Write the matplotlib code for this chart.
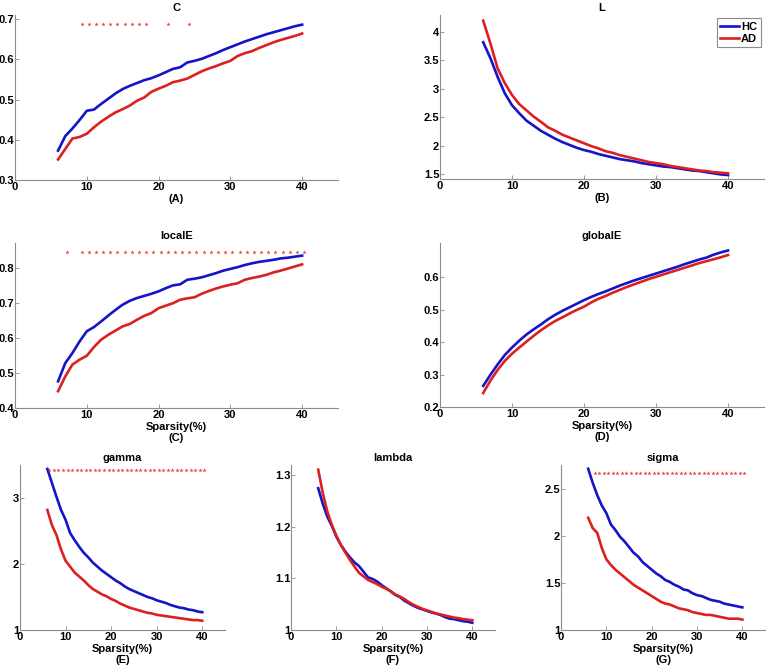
import matplotlib
matplotlib.use("Agg")
import matplotlib.pyplot as plt
import matplotlib.transforms as mtransforms
from matplotlib.ticker import FuncFormatter

plt.rcParams['font.family'] = ['Liberation Sans', 'DejaVu Sans']
plt.rcParams['font.weight'] = 'bold'
plt.rcParams['font.size'] = 8

W, H = 767, 665
BLUE = '#1414c8'
RED = '#dc2020'
GREY = '#8c8c8c'

# sparsity (%) from 6 to 40
sparsity = list(range(6, 41))

# C (clustering)
C_hc = [0.373, 0.409, 0.428, 0.449, 0.472, 0.475, 0.489, 0.502, 0.515, 0.526,
        0.534, 0.541, 0.548, 0.553, 0.560, 0.568, 0.576, 0.580, 0.592, 0.596,
        0.601, 0.608, 0.615, 0.623, 0.630, 0.637, 0.644, 0.650, 0.656, 0.662,
        0.667, 0.672, 0.677, 0.682, 0.686]
C_ad = [0.351, 0.377, 0.403, 0.407, 0.415, 0.431, 0.445, 0.457, 0.468, 0.476,
        0.485, 0.497, 0.505, 0.519, 0.527, 0.534, 0.543, 0.547, 0.552, 0.561,
        0.570, 0.577, 0.583, 0.590, 0.596, 0.608, 0.615, 0.620, 0.628, 0.635,
        0.642, 0.648, 0.653, 0.658, 0.664]
C_stars = [9, 10, 11, 12, 13, 14, 15, 16, 17, 18, 21, 24]

# L (path length)
L_hc = [3.82, 3.54, 3.21, 2.92, 2.71, 2.57, 2.44, 2.35, 2.26, 2.19,
        2.12, 2.06, 2.01, 1.96, 1.92, 1.89, 1.85, 1.82, 1.79, 1.76,
        1.74, 1.72, 1.69, 1.67, 1.65, 1.63, 1.62, 1.60, 1.58, 1.56,
        1.55, 1.53, 1.51, 1.49, 1.48]
L_ad = [4.20, 3.80, 3.36, 3.10, 2.89, 2.73, 2.62, 2.51, 2.42, 2.32,
        2.26, 2.19, 2.14, 2.09, 2.04, 1.99, 1.95, 1.90, 1.87, 1.83,
        1.80, 1.77, 1.74, 1.71, 1.69, 1.67, 1.64, 1.62, 1.60, 1.58,
        1.56, 1.55, 1.53, 1.52, 1.51]

# localE
loc_hc = [0.476, 0.528, 0.557, 0.590, 0.619, 0.631, 0.647, 0.664, 0.680, 0.695,
          0.706, 0.714, 0.720, 0.726, 0.733, 0.742, 0.750, 0.753, 0.766, 0.769,
          0.773, 0.779, 0.785, 0.792, 0.797, 0.802, 0.808, 0.813, 0.817, 0.820,
          0.823, 0.827, 0.829, 0.832, 0.835]
loc_ad = [0.448, 0.490, 0.524, 0.538, 0.549, 0.574, 0.595, 0.609, 0.621, 0.633,
          0.640, 0.652, 0.663, 0.671, 0.685, 0.692, 0.699, 0.709, 0.713, 0.716,
          0.726, 0.734, 0.741, 0.747, 0.752, 0.756, 0.766, 0.771, 0.775, 0.780,
          0.787, 0.792, 0.798, 0.804, 0.810]
loc_stars = [7] + list(range(9, 41))

# globalE
glob_hc = [0.265, 0.299, 0.331, 0.360, 0.383, 0.404, 0.423, 0.439, 0.454, 0.470,
           0.484, 0.496, 0.507, 0.518, 0.529, 0.539, 0.548, 0.556, 0.565, 0.574,
           0.582, 0.590, 0.597, 0.604, 0.611, 0.618, 0.625, 0.632, 0.640, 0.647,
           0.654, 0.660, 0.669, 0.676, 0.682]
glob_ad = [0.243, 0.281, 0.314, 0.342, 0.364, 0.383, 0.401, 0.419, 0.436, 0.451,
           0.465, 0.476, 0.488, 0.499, 0.509, 0.522, 0.533, 0.542, 0.552, 0.561,
           0.570, 0.578, 0.586, 0.594, 0.601, 0.608, 0.615, 0.622, 0.629, 0.636,
           0.643, 0.649, 0.655, 0.661, 0.668]

# gamma
gam_hc = [3.44, 3.23, 3.02, 2.82, 2.67, 2.47, 2.36, 2.26, 2.17, 2.10,
          2.02, 1.96, 1.90, 1.85, 1.80, 1.75, 1.71, 1.66, 1.62, 1.59,
          1.56, 1.53, 1.50, 1.48, 1.45, 1.43, 1.41, 1.38, 1.36, 1.34,
          1.33, 1.31, 1.30, 1.28, 1.27]
gam_ad = [2.82, 2.59, 2.44, 2.22, 2.05, 1.96, 1.87, 1.81, 1.75, 1.68,
          1.62, 1.58, 1.54, 1.51, 1.47, 1.44, 1.40, 1.37, 1.34, 1.32,
          1.30, 1.28, 1.26, 1.25, 1.23, 1.22, 1.21, 1.20, 1.19, 1.18,
          1.17, 1.16, 1.15, 1.15, 1.14]
gam_stars = list(range(6, 41))

# lambda
lam_hc = [1.275, 1.245, 1.220, 1.202, 1.181, 1.165, 1.152, 1.141, 1.131, 1.124,
          1.113, 1.102, 1.099, 1.094, 1.087, 1.081, 1.075, 1.068, 1.064, 1.057,
          1.052, 1.047, 1.043, 1.040, 1.037, 1.034, 1.032, 1.029, 1.025, 1.022,
          1.021, 1.019, 1.017, 1.016, 1.014]
lam_ad = [1.311, 1.266, 1.230, 1.204, 1.183, 1.165, 1.150, 1.136, 1.123, 1.111,
          1.104, 1.097, 1.093, 1.089, 1.084, 1.080, 1.075, 1.069, 1.065, 1.060,
          1.054, 1.049, 1.045, 1.041, 1.038, 1.035, 1.032, 1.030, 1.028, 1.026,
          1.024, 1.023, 1.021, 1.020, 1.019]

# sigma
sig_hc = [2.71, 2.56, 2.43, 2.32, 2.24, 2.12, 2.06, 1.99, 1.94, 1.88,
          1.82, 1.78, 1.72, 1.68, 1.64, 1.60, 1.57, 1.53, 1.51, 1.48,
          1.46, 1.43, 1.42, 1.39, 1.37, 1.36, 1.34, 1.32, 1.31, 1.30,
          1.28, 1.27, 1.26, 1.25, 1.24]
sig_ad = [2.19, 2.08, 2.03, 1.87, 1.75, 1.69, 1.64, 1.60, 1.56, 1.52,
          1.48, 1.45, 1.42, 1.39, 1.36, 1.33, 1.30, 1.28, 1.27, 1.25,
          1.23, 1.22, 1.21, 1.19, 1.18, 1.17, 1.16, 1.16, 1.15, 1.14,
          1.13, 1.12, 1.12, 1.12, 1.11]
sig_stars = list(range(7, 41))


def fmt(v, pos):
    return '%g' % round(v, 3)


fig = plt.figure(figsize=(W / 100, H / 100), dpi=100)


def panel(box, hc, ad, title, xlabel, ylim, yticks, stars=None, star_y=None):
    l, t, r, b = box
    ax = fig.add_axes([l / W, 1 - b / H, (r - l) / W, (b - t) / H])
    ax.plot(sparsity, hc, color=BLUE, lw=1.9, label='HC')
    ax.plot(sparsity, ad, color=RED, lw=1.9, label='AD')
    if stars:
        # MATLAB text-like placement: shifted a little to the right
        tr = mtransforms.offset_copy(ax.transData, fig=fig, x=2, y=0, units='dots')
        ax.plot(stars, [star_y] * len(stars), ls='none', marker='*',
                ms=3.2, color=RED, mew=0, alpha=0.85, transform=tr)
    ax.set_xlim(0, 45)
    ax.set_ylim(*ylim)
    ax.set_xticks([0, 10, 20, 30, 40])
    ax.set_yticks(yticks)
    ax.xaxis.set_major_formatter(FuncFormatter(fmt))
    ax.yaxis.set_major_formatter(FuncFormatter(fmt))
    for s in ['top', 'right']:
        ax.spines[s].set_visible(False)
    for s in ['left', 'bottom']:
        ax.spines[s].set_color(GREY)
        ax.spines[s].set_linewidth(0.8)
    ax.tick_params(direction='in', length=3, width=0.6, color=GREY,
                   labelsize=8)
    ax.tick_params(axis='y', pad=0.5)
    ax.tick_params(axis='x', pad=1.5)
    ax.set_title(title, fontsize=8, fontweight='bold', pad=3)
    ax.set_xlabel(xlabel, fontsize=8, fontweight='bold', labelpad=1.5,
                  linespacing=1.15)
    return ax


panel((15, 15, 338, 180), C_hc, C_ad, 'C', '(A)', (0.3, 0.71),
      [0.3, 0.4, 0.5, 0.6, 0.7], C_stars, 0.688)
axB = panel((440, 15, 764, 179), L_hc, L_ad, 'L', '(B)', (1.41, 4.3),
            [1.5, 2, 2.5, 3, 3.5, 4])
leg = axB.legend(loc='upper right', fontsize=8, handlelength=1.7,
                 borderaxespad=0.3, fancybox=False, framealpha=1,
                 handletextpad=0.2, borderpad=0.3, labelspacing=0.2)
leg.get_frame().set_edgecolor(GREY)
leg.get_frame().set_linewidth(0.8)
for txt in leg.get_texts():
    txt.set_fontweight('bold')

panel((15, 243, 338, 408), loc_hc, loc_ad, 'localE', 'Sparsity(%)\n(C)',
      (0.4, 0.871), [0.4, 0.5, 0.6, 0.7, 0.8], loc_stars, 0.846)
panel((440, 243, 764, 407), glob_hc, glob_ad, 'globalE', 'Sparsity(%)\n(D)',
      (0.2, 0.705), [0.2, 0.3, 0.4, 0.5, 0.6])
panel((20, 465, 225, 630), gam_hc, gam_ad, 'gamma', 'Sparsity(%)\n(E)',
      (1, 3.5), [1, 2, 3], gam_stars, 3.42)
panel((291, 465, 495, 630), lam_hc, lam_ad, 'lambda', 'Sparsity(%)\n(F)',
      (1, 1.32), [1, 1.1, 1.2, 1.3])
panel((561, 465, 765, 630), sig_hc, sig_ad, 'sigma', 'Sparsity(%)\n(G)',
      (1, 2.75), [1, 1.5, 2, 2.5], sig_stars, 2.67)

fig.savefig('out.png', dpi=100)
